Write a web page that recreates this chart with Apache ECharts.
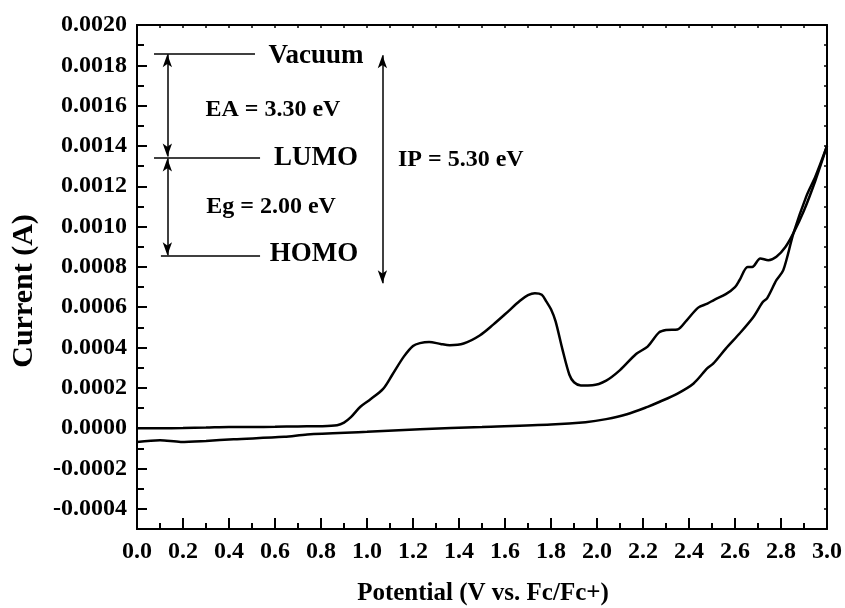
<!DOCTYPE html>
<html>
<head>
<meta charset="utf-8">
<script src="https://cdn.jsdelivr.net/npm/echarts@6/dist/echarts.min.js"></script>
<style>html,body{margin:0;padding:0;background:#fff}#c{width:845px;height:608px}</style>
</head>
<body>
<div id="c"></div>
<script>
// Forward sweep (0 -> 3.0 V)
const fwdPotential = [0.0, 0.1, 0.2, 0.3, 0.4, 0.5, 0.6, 0.7, 0.8, 0.87, 0.9, 0.93, 0.97, 1.01, 1.07, 1.11, 1.16, 1.2, 1.23, 1.27, 1.32, 1.36, 1.42, 1.49, 1.55, 1.6, 1.665, 1.7, 1.73, 1.76, 1.78, 1.8, 1.82, 1.85, 1.88, 1.9, 1.93, 1.98, 2.04, 2.1, 2.17, 2.22, 2.27, 2.3, 2.35, 2.39, 2.44, 2.48, 2.51, 2.56, 2.6, 2.62, 2.655, 2.675, 2.71, 2.745, 2.78, 2.82, 2.855, 2.9, 2.95, 3.0];
const fwdCurrent = [0.0, 0.0, 0.000001, 0.000003, 0.000006, 0.000006, 0.000007, 0.000009, 0.00001, 0.000015, 0.000028, 0.000055, 0.000105, 0.000139, 0.000195, 0.000265, 0.000355, 0.000408, 0.000422, 0.000428, 0.000418, 0.000412, 0.00042, 0.00046, 0.000515, 0.000565, 0.000632, 0.00066, 0.00067, 0.000662, 0.000628, 0.00059, 0.00053, 0.00039, 0.000265, 0.000228, 0.000212, 0.000213, 0.000236, 0.000288, 0.000368, 0.000405, 0.000475, 0.000487, 0.00049, 0.000535, 0.000598, 0.000618, 0.000637, 0.000665, 0.0007, 0.000735, 0.0008, 0.0008, 0.000842, 0.000833, 0.00085, 0.0009, 0.00097, 0.00108, 0.00123, 0.0014];
// Reverse sweep (3.0 -> 0 V)
const revPotential = [3.0, 2.95, 2.91, 2.855, 2.81, 2.78, 2.74, 2.72, 2.68, 2.62, 2.56, 2.505, 2.48, 2.42, 2.35, 2.27, 2.22, 2.13, 2.04, 1.95, 1.8, 1.5, 1.23, 1.0, 0.74, 0.64, 0.42, 0.3, 0.19, 0.1, 0.0];
const revCurrent = [0.0014, 0.00125, 0.00115, 0.00097, 0.000784, 0.000734, 0.000645, 0.000625, 0.000552, 0.00047, 0.000395, 0.00032, 0.000298, 0.000222, 0.000172, 0.00013, 0.000106, 0.000069, 0.000045, 0.00003, 0.000018, 0.000006, -0.000005, -0.000018, -0.000031, -0.000043, -0.000055, -0.000063, -0.000068, -0.00006, -0.000068];
// Tick values
const yTickLabels = [-0.0004, -0.0002, 0.0, 0.0002, 0.0004, 0.0006, 0.0008, 0.0010, 0.0012, 0.0014, 0.0016, 0.0018, 0.0020];
const xTickLabels = [0.0, 0.2, 0.4, 0.6, 0.8, 1.0, 1.2, 1.4, 1.6, 1.8, 2.0, 2.2, 2.4, 2.6, 2.8, 3.0];
// Energy-level annotation texts
const levelTexts = ['Vacuum', 'LUMO', 'HOMO'];
const gapTexts = ['EA = 3.30 eV', 'Eg = 2.00 eV', 'IP = 5.30 eV'];

const FONT = '"Liberation Serif", "Times New Roman", serif';
const fwd = fwdPotential.map((x, i) => [x, fwdCurrent[i]]);
const rev = revPotential.map((x, i) => [x, revCurrent[i]]);

const chart = echarts.init(document.getElementById('c'));
const axisLine = { show: true, onZero: false, lineStyle: { color: '#000', width: 2 } };
const option = {
  animation: false,
  backgroundColor: '#fff',
  grid: { left: 137, right: 18, top: 25, bottom: 79, containLabel: false },
  xAxis: [
    {
      type: 'value', min: 0, max: 3, interval: 0.2, position: 'bottom',
      axisLine: axisLine,
      axisTick: { show: true, inside: true, length: 11, lineStyle: { color: '#000', width: 2 } },
      minorTick: { show: true, splitNumber: 2, length: 6, lineStyle: { color: '#000', width: 2 } },
      axisLabel: { show: true, color: '#000', fontFamily: FONT, fontWeight: 'bold', fontSize: 24, margin: 11,
        customValues: xTickLabels, formatter: (v) => v.toFixed(1) },
      splitLine: { show: false }
    },
    {
      type: 'value', min: 0, max: 3, interval: 0.1, position: 'top',
      axisLine: axisLine,
      axisTick: { show: true, inside: true, length: 3, lineStyle: { color: '#000', width: 1.5 } },
      axisLabel: { show: false }, splitLine: { show: false }
    }
  ],
  yAxis: [
    {
      type: 'value', min: -0.0005, max: 0.002, position: 'left',
      axisLine: axisLine,
      axisTick: { show: true, inside: true, length: 10, customValues: yTickLabels, lineStyle: { color: '#000', width: 2 } },
      axisLabel: { show: true, color: '#000', fontFamily: FONT, fontWeight: 'bold', fontSize: 24, margin: 10,
        customValues: yTickLabels,
        formatter: (v) => (v < -1e-12 ? '-' : '') + Math.abs(v).toFixed(4) },
      splitLine: { show: false }
    },
    {
      type: 'value', min: -0.0005, max: 0.002, interval: 0.0001, position: 'left',
      axisLine: axisLine,
      axisTick: { show: true, inside: true, length: 7, lineStyle: { color: '#000', width: 2 } },
      axisLabel: { show: false }, splitLine: { show: false }
    },
    {
      type: 'value', min: -0.0005, max: 0.002, interval: 0.0001, position: 'right',
      axisLine: axisLine,
      axisTick: { show: true, inside: true, length: 3, lineStyle: { color: '#000', width: 1.5 } },
      axisLabel: { show: false }, splitLine: { show: false }
    }
  ],
  series: [
    {
      type: 'line', data: fwd, xAxisIndex: 0, yAxisIndex: 0, showSymbol: false, smooth: 0.3,
      lineStyle: { color: '#000', width: 2.5 }, silent: true
    },
    {
      type: 'line', data: rev, xAxisIndex: 0, yAxisIndex: 0, showSymbol: false, smooth: 0.3,
      lineStyle: { color: '#000', width: 2.5 }, silent: true,
      markLine: {
        silent: true, animation: false,
        label: { show: false },
        lineStyle: { color: '#000', width: 1.5, type: 'solid' },
        symbolSize: [7, 13],
        data: [
          [{ coord: [0.074, 0.001859], symbol: 'none' }, { coord: [0.513, 0.001859], symbol: 'none' }],
          [{ coord: [0.074, 0.001343], symbol: 'none' }, { coord: [0.535, 0.001343], symbol: 'none' }],
          [{ coord: [0.104, 0.000853], symbol: 'none' }, { coord: [0.535, 0.000853], symbol: 'none' }],
          [{ coord: [0.132, 0.001855], symbol: 'arrow' }, { coord: [0.132, 0.001348], symbol: 'arrow' }],
          [{ coord: [0.132, 0.001338], symbol: 'arrow' }, { coord: [0.132, 0.000858], symbol: 'arrow' }],
          [{ coord: [1.067, 0.00185], symbol: 'arrow' }, { coord: [1.067, 0.000719], symbol: 'arrow' }]
        ]
      }
    }
  ]
};
chart.setOption(option);

const px = (x, y) => chart.convertToPixel({ gridIndex: 0 }, [x, y]);
const txt = (s, p, size, rot) => ({
  type: 'text', x: p[0], y: p[1], rotation: rot || 0, silent: true,
  style: { text: s, fill: '#000', font: 'bold ' + size + 'px ' + FONT, textAlign: 'center', textVerticalAlign: 'middle' }
});
chart.setOption({
  graphic: [
    txt(levelTexts[0], px(0.778, 0.001845), 27),
    txt(levelTexts[1], px(0.778, 0.001339), 27),
    txt(levelTexts[2], px(0.770, 0.000862), 27),
    txt(gapTexts[0], px(0.591, 0.001580), 24),
    txt(gapTexts[1], px(0.583, 0.001097), 24),
    txt(gapTexts[2], px(1.408, 0.001330), 24),
    txt('Potential (V vs. Fc/Fc+)', [483, 594], 25),
    txt('Current (A)', [24, 291], 30, Math.PI / 2)
  ]
});
</script>
</body>
</html>
